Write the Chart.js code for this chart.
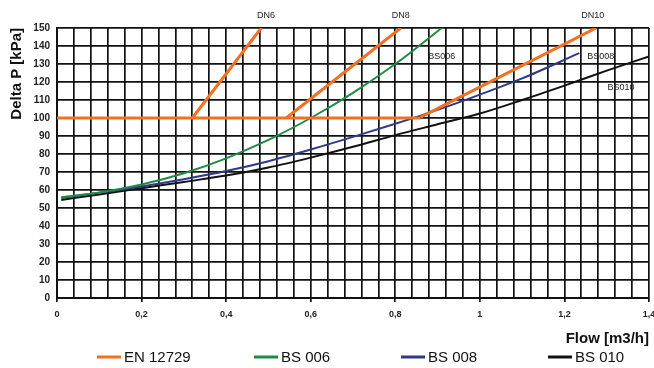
<!DOCTYPE html>
<html lang="en">
<head>
    <meta charset="UTF-8">
    <title>Delta P / Flow</title>
    <script src="https://cdn.jsdelivr.net/npm/chart.js"></script>
    <style>
        html, body { margin: 0; padding: 0; background: #fff; }
        #chart { display: block; }
    </style>
</head>
<body>
    <canvas id="chart" width="654" height="368"></canvas>

    <script>
        // EN 12729 limit: horizontal part + the DN branches
        const enX = [0, 0.86];
        const enY = [100, 100];
        const dn6X = [0.32, 0.483];
        const dn6Y = [100, 150];
        const dn8X = [0.542, 0.813];
        const dn8Y = [100, 150];
        const dn10X = [0.86, 1.275];
        const dn10Y = [100.5, 150];

        // valve curves
        const bs006X = [0.01, 0.1, 0.2, 0.3, 0.4, 0.5, 0.6, 0.7, 0.8, 0.91];
        const bs006Y = [56, 58.6, 63, 69.3, 77.6, 87.8, 100, 114, 130, 150];
        const bs008X = [0.01, 0.1, 0.2, 0.3, 0.4, 0.5, 0.6, 0.7, 0.8, 0.9, 1.0, 1.1, 1.235];
        const bs008Y = [55.5, 58.5, 62, 66, 70.5, 76, 82.5, 89.5, 96.8, 104.5, 113, 122, 136];
        const bs010X = [0.01, 0.1, 0.2, 0.3, 0.4, 0.5, 0.6, 0.7, 0.8, 0.9, 1.0, 1.1, 1.2, 1.3, 1.4];
        const bs010Y = [54.5, 57.5, 61, 64.5, 68, 72.5, 78, 84, 90.5, 96.5, 102.5, 110, 118, 126.3, 134.2];

        // curve labels (in data units)
        const noteText = ['DN6', 'DN8', 'DN10', 'BS006', 'BS008', 'BS010'];
        const noteX = [0.494, 0.813, 1.267, 0.910, 1.286, 1.334];
        const noteY = [156.7, 156.7, 156.7, 134.4, 134.4, 116.7];

        const legendNames = ['EN 12729', 'BS 006', 'BS 008', 'BS 010'];

        const ORANGE = '#f37021';
        const GREEN = '#1e8c45';
        const BLUE = '#2e3a87';
        const BLACK = '#111111';

        function pts(xs, ys) {
            return xs.map((x, i) => ({ x: x, y: ys[i] }));
        }

        function line(label, xs, ys, color, width) {
            return {
                label: label,
                data: pts(xs, ys),
                borderColor: color,
                backgroundColor: color,
                borderWidth: width,
                pointRadius: 0,
                showLine: true,
                cubicInterpolationMode: 'monotone',
                fill: false
            };
        }

        const datasets = [
            line('EN 12729', enX, enY, ORANGE, 3),
            line('DN6', dn6X, dn6Y, ORANGE, 3),
            line('DN8', dn8X, dn8Y, ORANGE, 3),
            line('DN10', dn10X, dn10Y, ORANGE, 3),
            line('BS 006', bs006X, bs006Y, GREEN, 2),
            line('BS 008', bs008X, bs008Y, BLUE, 2),
            line('BS 010', bs010X, bs010Y, BLACK, 2)
        ];

        function isMajor(v) {
            const r = v / 0.2;
            return Math.abs(r - Math.round(r)) < 1e-6;
        }

        // text labels on the curves + legend at the bottom
        const extras = {
            id: 'extras',
            afterDraw(chart) {
                const ctx = chart.ctx;
                const xs = chart.scales.x;
                const ys = chart.scales.y;
                ctx.save();
                ctx.fillStyle = '#222';
                ctx.font = '9px "Liberation Sans", Arial, sans-serif';
                ctx.textAlign = 'center';
                ctx.textBaseline = 'middle';
                noteText.forEach((t, i) => {
                    ctx.fillText(t, xs.getPixelForValue(noteX[i]), ys.getPixelForValue(noteY[i]));
                });

                // legend
                const legendX = [97, 254, 401, 548];
                const ly = 357;
                ctx.font = '15px "Liberation Sans", Arial, sans-serif';
                ctx.textAlign = 'left';
                ctx.fillStyle = '#111';
                legendNames.forEach((name, i) => {
                    const ds = chart.data.datasets.find(d => d.label === name);
                    ctx.strokeStyle = ds.borderColor;
                    ctx.lineWidth = 3;
                    ctx.beginPath();
                    ctx.moveTo(legendX[i], ly);
                    ctx.lineTo(legendX[i] + 24, ly);
                    ctx.stroke();
                    ctx.fillText(name, legendX[i] + 27, ly + 1);
                });
                ctx.restore();
            }
        };

        new Chart(document.getElementById('chart'), {
            type: 'scatter',
            data: { datasets: datasets },
            plugins: [extras],
            options: {
                responsive: false,
                animation: false,
                layout: { padding: { left: 0, right: 5, top: 28, bottom: 20 } },
                plugins: {
                    legend: { display: false },
                    tooltip: { enabled: false }
                },
                scales: {
                    x: {
                        type: 'linear',
                        min: 0,
                        max: 1.4,
                        afterFit: s => {
                            s.height = 50;
                            s.paddingLeft = 0;
                            s.paddingRight = 0;
                        },
                        ticks: {
                            stepSize: 0.04,
                            autoSkip: false,
                            maxRotation: 0,
                            padding: 7,
                            color: '#222',
                            font: { family: '"Liberation Sans", Arial', size: 9, weight: 'bold' },
                            callback: v => isMajor(v) ? String(Math.round(v * 10) / 10).replace('.', ',') : ''
                        },
                        grid: {
                            color: BLACK,
                            lineWidth: 1.7,
                            tickLength: 4,
                            tickColor: c => (c.tick && isMajor(c.tick.value)) ? BLACK : 'rgba(0,0,0,0)'
                        },
                        border: { color: BLACK, width: 2 },
                        title: {
                            display: true,
                            text: 'Flow [m3/h]',
                            align: 'end',
                            color: '#111',
                            padding: 0,
                            font: { family: '"Liberation Sans", Arial', size: 15, weight: 'bold' }
                        }
                    },
                    y: {
                        min: 0,
                        max: 150,
                        afterFit: s => {
                            s.width = 57;
                            s.paddingTop = 0;
                            s.paddingBottom = 0;
                        },
                        ticks: {
                            stepSize: 10,
                            padding: 7,
                            color: '#222',
                            font: { family: '"Liberation Sans", Arial', size: 10, weight: 'bold' }
                        },
                        grid: { color: BLACK, lineWidth: 1.7, drawTicks: false },
                        border: { color: BLACK, width: 2 },
                        title: {
                            display: true,
                            text: 'Delta P [kPa]',
                            align: 'end',
                            color: '#111',
                            padding: { top: 8, bottom: 0 },
                            font: { family: '"Liberation Sans", Arial', size: 15, weight: 'bold' }
                        }
                    }
                }
            }
        });
    </script>
</body>
</html>
